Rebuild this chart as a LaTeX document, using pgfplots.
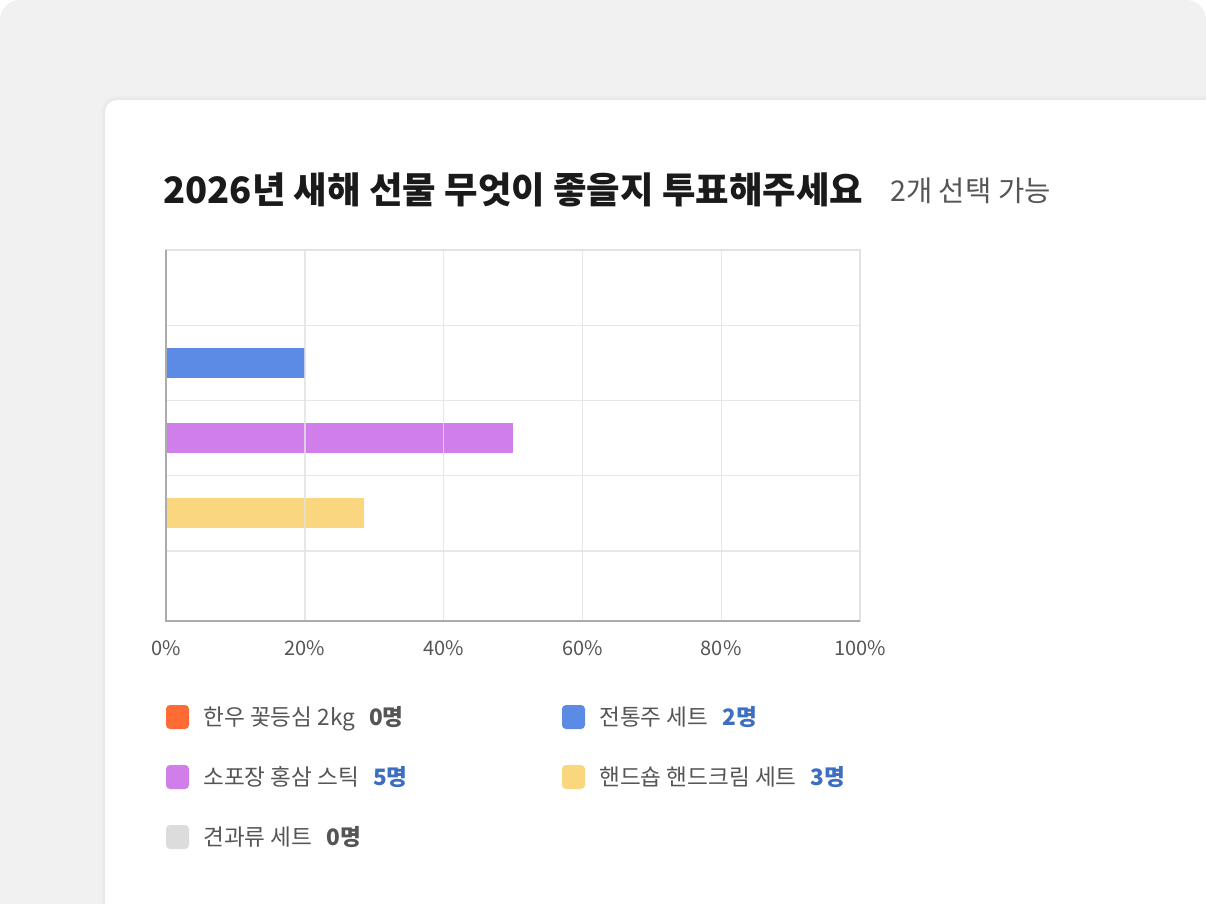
\documentclass[border=0pt]{standalone}
\usepackage{pgfplots}
\pgfplotsset{compat=1.18}
\usepackage{fontspec}
\setmainfont{Noto Sans CJK KR}
\definecolor{bggray}{HTML}{F1F1F1}
\definecolor{gridgray}{HTML}{E2E2E2}
\definecolor{axisgray}{HTML}{ABABAB}
\definecolor{tickgray}{HTML}{555555}
\definecolor{titleblack}{HTML}{1A1A1A}
\definecolor{cOrange}{HTML}{FF6B35}
\definecolor{cBlue}{HTML}{5B8BE5}
\definecolor{cPurple}{HTML}{CF7EEA}
\definecolor{cYellow}{HTML}{FAD67E}
\definecolor{cGray}{HTML}{DCDCDC}
\definecolor{valBlue}{HTML}{3D6EC2}
\begin{document}
\begin{tikzpicture}
\begin{scope}[x=0.5pt,y=-0.5pt]
\path[use as bounding box] (0,0) rectangle (1206,904);
\begin{scope}
\clip (0,0) rectangle (1206,904);
\fill[white] (0,0) rectangle (1206,904);
\fill[bggray, rounded corners=10pt] (0,0) rectangle (1206,980);
\fill[black, opacity=0.015, rounded corners=8pt] (101,96) rectangle (1260,980);
\fill[black, opacity=0.02, rounded corners=7pt] (103,98) rectangle (1260,980);
\fill[white, rounded corners=6pt] (105,100) rectangle (1260,980);
\end{scope}
% title
\node[anchor=base west, inner sep=0pt, text=titleblack, font=\fontsize{18.2}{22}\selectfont\bfseries] at (163,204) {2026년 새해 선물 무엇이 좋을지 투표해주세요};
\node[anchor=base west, inner sep=0pt, text=tickgray, font=\fontsize{14.3}{17}\selectfont] at (890,202) {2개 선택 가능};
% legend
\newcommand{\legitem}[5]{%
  \fill[#3, rounded corners=2pt] (#1,#2-12) rectangle (#1+23,#2+12);
  \node[anchor=base west, inner sep=0pt, font=\fontsize{11.3}{13}\selectfont, text=tickgray] at (#1+37,#2+8.5) {#4\hspace{7pt}#5};
}
\legitem{166}{717}{cOrange}{한우 꽃등심 2kg}{\textbf{0명}}
\legitem{562}{717}{cBlue}{전통주 세트}{\textcolor{valBlue}{\textbf{2명}}}
\legitem{166}{777}{cPurple}{소포장 홍삼 스틱}{\textcolor{valBlue}{\textbf{5명}}}
\legitem{562}{777}{cYellow}{핸드숍 핸드크림 세트}{\textcolor{valBlue}{\textbf{3명}}}
\legitem{166}{837}{cGray}{견과류 세트}{\textbf{0명}}
\end{scope}
\begin{axis}[
  at={(83pt,-310.5pt)}, anchor=south west,
  scale only axis, width=347pt, height=185.5pt,
  xbar, bar width=15pt, bar shift=0pt,
  xmin=0, xmax=100,
  ymin=-0.5, ymax=4.43, y dir=reverse,
  xtick={0,20,40,60,80,100},
  xticklabels={0\%,20\%,40\%,60\%,80\%,100\%},
  ytick={0.5,1.5,2.5,3.5}, yticklabels={},
  major tick length=0pt,
  grid=major,
  major grid style={draw=gridgray, line width=0.7pt, opacity=0.8},
  axis line style={draw=gridgray, line width=0.7pt},
  axis on top,
  xticklabel style={font=\fontsize{10}{12}\selectfont, text=tickgray, anchor=base, yshift=-17pt},
  every axis plot/.append style={draw=none},
  after end axis/.code={
    \draw[axisgray, line width=1pt] (axis cs:0,-0.5) -- (axis cs:0,4.43) -- (axis cs:100,4.43);
  },
]
\addplot[fill=cOrange] coordinates {(0,0)};
\addplot[fill=cBlue] coordinates {(20,1)};
\addplot[fill=cPurple] coordinates {(50,2)};
\addplot[fill=cYellow] coordinates {(28.6,3)};
\addplot[fill=cGray] coordinates {(0,4)};
\end{axis}
\end{tikzpicture}
\end{document}
